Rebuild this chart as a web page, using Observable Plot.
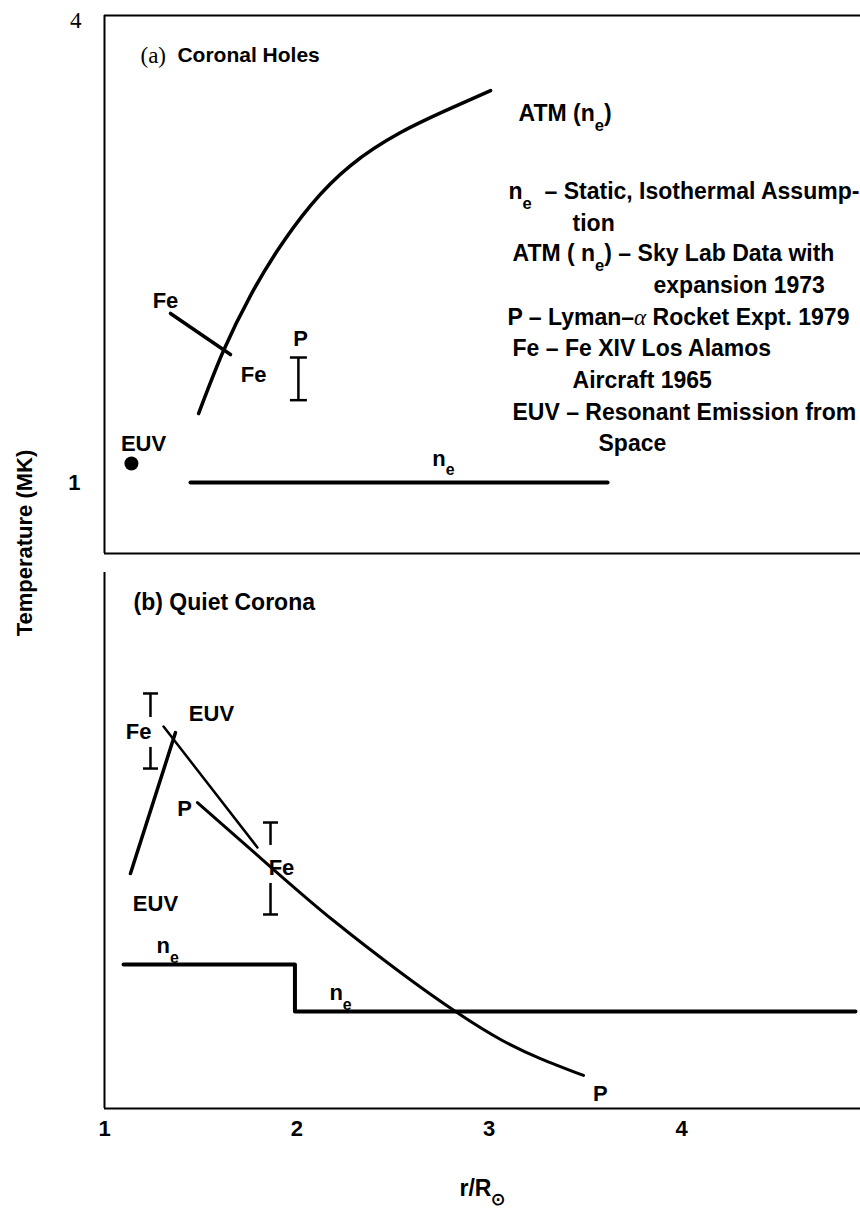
<!DOCTYPE html>
<html>
<head>
<meta charset="utf-8">
<script src="https://cdn.jsdelivr.net/npm/d3@7"></script>
<script src="https://cdn.jsdelivr.net/npm/@observablehq/plot@0.6"></script>
<style>
  body { margin: 0; background: #fff; }
  #wrap { position: relative; width: 860px; height: 1214px; background: #fff; overflow: hidden; }
  #a { position: absolute; left: 0; top: 0; }
  #b { position: absolute; left: 0; top: 560px; }
  #ylab { position: absolute; left: 25px; top: 543px; transform: translate(-50%, -50%) rotate(-90deg);
          white-space: nowrap; font: bold 22px "Liberation Sans", Arial, sans-serif; color: #000; }
</style>
</head>
<body>
<div id="wrap">
  <div id="a"></div>
  <div id="b"></div>
  <div id="ylab">Temperature (MK)</div>
</div>
<script>
// ---------- (a) Coronal Holes ----------
const atmR = [1.489, 1.619, 1.759, 1.899, 2.071, 2.279, 2.539, 2.799, 3.007];
const atmT = [1.443, 1.848, 2.201, 2.490, 2.779, 3.036, 3.248, 3.403, 3.518];
const feLineR = [1.343, 1.655];
const feLineT = [2.086, 1.822];
const neTopR = [1.447, 3.615];
const neTopT = [1.0, 1.0];
const euvPointR = [1.140];
const euvPointT = [1.122];
const pBarR = [2.008];
const pBarLo = [1.529];
const pBarHi = [1.803];

// ---------- (b) Quiet Corona ----------
const neStepR = [1.099, 1.99, 4.904];
const neStepT = [1.472, 1.169, 1.169];
const euvRiseR = [1.135, 1.369];
const euvRiseT = [2.059, 2.968];
const euvFallR = [1.307, 1.795];
const euvFallT = [3.007, 2.227];
const pCurveR = [1.483, 1.879, 2.190, 2.539, 2.825, 3.059, 3.266, 3.490];
const pCurveT = [2.517, 2.085, 1.756, 1.421, 1.169, 0.989, 0.866, 0.757];
const feBarR = [1.239, 1.863];
const feBarLo = [2.736, 1.795];
const feBarGapLo = [2.872, 1.995];
const feBarGapHi = [3.065, 2.240];
const feBarHi = [3.220, 2.388];

// ---------- ticks & labels ----------
const xTicks = [1, 2, 3, 4];
const yTickTop = [4];
const yTickOne = [1];
const xLabel = "r/R_⊙";

const labelsA = [
  {r: 1.317, T: 2.169, text: "Fe"},
  {r: 1.775, T: 1.694, text: "Fe"},
  {r: 2.019, T: 1.925, text: "P"},
  {r: 1.203, T: 1.250, text: "EUV"},
  {r: 2.762, T: 1.154, text: "n_e"}
];
const legendA = [
  {r: 3.152, T: 3.370, text: "ATM (n_e)"},
  {r: 3.100, T: 2.869, text: "n_e  – Static, Isothermal Assump-"},
  {r: 3.433, T: 2.662, text: "tion"},
  {r: 3.121, T: 2.469, text: "ATM ( n_e) – Sky Lab Data with"},
  {r: 3.854, T: 2.266, text: "expansion 1973"},
  {r: 3.095, T: 2.062, text: "P – Lyman–α Rocket Expt. 1979"},
  {r: 3.121, T: 1.859, text: "Fe – Fe XIV Los Alamos"},
  {r: 3.433, T: 1.655, text: "Aircraft 1965"},
  {r: 3.121, T: 1.452, text: "EUV – Resonant Emission from"},
  {r: 3.568, T: 1.249, text: "Space"}
];
const titleA = [{r: 1.187, T: 3.743, tag: "(a)"}, {r: 1.379, T: 3.743, tag: "Coronal Holes"}];

const labelsB = [
  {r: 1.177, T: 2.975, text: "Fe"},
  {r: 1.556, T: 3.091, text: "EUV"},
  {r: 1.416, T: 2.478, text: "P"},
  {r: 1.920, T: 2.092, text: "Fe"},
  {r: 1.265, T: 1.866, text: "EUV"},
  {r: 3.578, T: 0.641, text: "P"},
  {r: 1.328, T: 1.589, text: "n_e"},
  {r: 2.227, T: 1.286, text: "n_e"}
];
const titleB = [{r: 1.151, T: 3.807, text: "(b) Quiet Corona"}];

// ---------- build tables ----------
const zip = (R, T) => R.map((r, i) => ({r, T: T[i]}));
const atm = zip(atmR, atmT);
const feLine = zip(feLineR, feLineT);
const neTop = zip(neTopR, neTopT);
const euvPoint = zip(euvPointR, euvPointT);
const pBar = pBarR.map((r, i) => ({r, lo: pBarLo[i], hi: pBarHi[i]}));
const neStep = zip(neStepR, neStepT);
const euvRise = zip(euvRiseR, euvRiseT);
const euvFall = zip(euvFallR, euvFallT);
const pCurve = zip(pCurveR, pCurveT);
const feBars = feBarR.map((r, i) => ({r, lo: feBarLo[i], gLo: feBarGapLo[i], gHi: feBarGapHi[i], hi: feBarHi[i]}));

const capSymbol = {
  draw(ctx, size) {
    const w = Math.sqrt(size / Math.PI);
    ctx.moveTo(-w, 0);
    ctx.lineTo(w, 0);
  }
};

const xDomain = [1, 4.93];
const yDomain = [0.544, 4];
const baseStyle = {fontFamily: "'Liberation Sans', Arial, sans-serif", fontWeight: "bold", color: "#000", background: "#fff"};

const plotA = Plot.plot({
  width: 860, height: 560,
  marginLeft: 104, marginRight: 0, marginTop: 15, marginBottom: 7,
  style: baseStyle,
  x: {domain: xDomain, axis: null, label: null},
  y: {domain: yDomain, axis: null, label: null},
  marks: [
    Plot.ruleY([yDomain[1]], {stroke: "#000", strokeWidth: 2}),
    Plot.ruleY([yDomain[0]], {stroke: "#000", strokeWidth: 2}),
    Plot.ruleX([xDomain[0]], {stroke: "#000", strokeWidth: 2}),
    // y tick labels
    Plot.text(yTickTop, {y: d => d, text: d => String(d), frameAnchor: "left", textAnchor: "end", dx: -23, dy: 5,
      fontSize: 23, fontFamily: "'Liberation Serif', serif", fontWeight: "normal", fill: "#000"}),
    Plot.text(yTickOne, {y: d => d, text: d => String(d), frameAnchor: "left", textAnchor: "end", dx: -24,
      fontSize: 22, fill: "#000"}),
    Plot.line(atm, {x: "r", y: "T", curve: "natural", stroke: "#000", strokeWidth: 3.5}),
    Plot.line(feLine, {x: "r", y: "T", stroke: "#000", strokeWidth: 3.5}),
    Plot.line(neTop, {x: "r", y: "T", stroke: "#000", strokeWidth: 4}),
    Plot.dot(euvPoint, {x: "r", y: "T", r: 7, fill: "#000", stroke: "none"}),
    Plot.ruleX(pBar, {x: "r", y1: "lo", y2: "hi", stroke: "#000", strokeWidth: 2.5}),
    Plot.dot(pBar, {x: "r", y: "lo", r: 8.5, symbol: capSymbol, stroke: "#000", fill: "none", strokeWidth: 2.5}),
    Plot.dot(pBar, {x: "r", y: "hi", r: 8.5, symbol: capSymbol, stroke: "#000", fill: "none", strokeWidth: 2.5}),
    Plot.text(labelsA, {x: "r", y: "T", text: "text", fontSize: 22, fill: "#000"}),
    Plot.text(legendA, {x: "r", y: "T", text: "text", fontSize: 23, textAnchor: "start", fill: "#000"}),
    Plot.text(titleA.slice(0, 1), {x: "r", y: "T", text: "tag", fontSize: 23, textAnchor: "start", fontFamily: "'Liberation Serif', serif", fontWeight: "normal", fill: "#000"}),
    Plot.text(titleA.slice(1), {x: "r", y: "T", text: "tag", fontSize: 21, textAnchor: "start", fill: "#000"})
  ]
});

const plotB = Plot.plot({
  width: 860, height: 654,
  marginLeft: 104, marginRight: 0, marginTop: 12, marginBottom: 106,
  style: baseStyle,
  x: {domain: xDomain, axis: null, label: null},
  y: {domain: yDomain, axis: null, label: null},
  marks: [
    Plot.ruleY([yDomain[0]], {stroke: "#000", strokeWidth: 2}),
    Plot.ruleX([xDomain[0]], {stroke: "#000", strokeWidth: 2}),
    // x tick labels
    Plot.text(xTicks, {x: d => d, text: d => String(d), frameAnchor: "bottom", dy: 27, fontSize: 22, fill: "#000"}),
    Plot.line(neStep, {x: "r", y: "T", curve: "step-after", stroke: "#000", strokeWidth: 4}),
    Plot.line(euvRise, {x: "r", y: "T", stroke: "#000", strokeWidth: 3.5}),
    Plot.line(euvFall, {x: "r", y: "T", stroke: "#000", strokeWidth: 2.5}),
    Plot.line(pCurve, {x: "r", y: "T", curve: "natural", stroke: "#000", strokeWidth: 3}),
    Plot.ruleX(feBars, {x: "r", y1: "gHi", y2: "hi", stroke: "#000", strokeWidth: 2.5}),
    Plot.ruleX(feBars, {x: "r", y1: "lo", y2: "gLo", stroke: "#000", strokeWidth: 2.5}),
    Plot.dot(feBars, {x: "r", y: "hi", r: 7.5, symbol: capSymbol, stroke: "#000", fill: "none", strokeWidth: 2.5}),
    Plot.dot(feBars, {x: "r", y: "lo", r: 7.5, symbol: capSymbol, stroke: "#000", fill: "none", strokeWidth: 2.5}),
    Plot.text(labelsB, {x: "r", y: "T", text: "text", fontSize: 22, fill: "#000"}),
    Plot.text(titleB, {x: "r", y: "T", text: "text", fontSize: 23, textAnchor: "start", fill: "#000"}),
    Plot.text([xLabel], {frameAnchor: "bottom", dy: 87, fontSize: 23, fill: "#000"})
  ]
});

document.getElementById("a").appendChild(plotA);
document.getElementById("b").appendChild(plotB);

// subscripts ("_x") and serif italic alpha
function decorate(svg) {
  d3.select(svg).selectAll("text").each(function() {
    const el = this;
    if (el.querySelector("tspan")) return;
    const txt = el.textContent;
    if (!/[_α]/.test(txt)) return;
    const fs = parseFloat(getComputedStyle(el).fontSize) || 20;
    const segs = [];
    let buf = "";
    for (let i = 0; i < txt.length; i++) {
      const c = txt[i];
      if (c === "_" && i + 1 < txt.length) {
        if (buf) segs.push({t: buf, type: "n"}); buf = "";
        segs.push({t: txt[i + 1], type: "sub"}); i++;
      } else if (c === "α") {
        if (buf) segs.push({t: buf, type: "n"}); buf = "";
        segs.push({t: c, type: "alpha"});
      } else buf += c;
    }
    if (buf) segs.push({t: buf, type: "n"});
    el.textContent = "";
    const sel = d3.select(el);
    const shift = fs * 0.42;
    let shifted = false;
    for (const s of segs) {
      const ts = sel.append("tspan").text(s.t);
      if (s.type === "sub") {
        ts.attr("font-size", fs * 0.72).attr("dy", shift);
        shifted = true;
      } else {
        if (shifted) { ts.attr("dy", -shift); shifted = false; }
        if (s.type === "alpha") ts.attr("font-family", "'Liberation Serif', serif").attr("font-style", "italic").attr("font-weight", "normal");
      }
    }
  });
}
decorate(plotA);
decorate(plotB);
</script>
</body>
</html>
